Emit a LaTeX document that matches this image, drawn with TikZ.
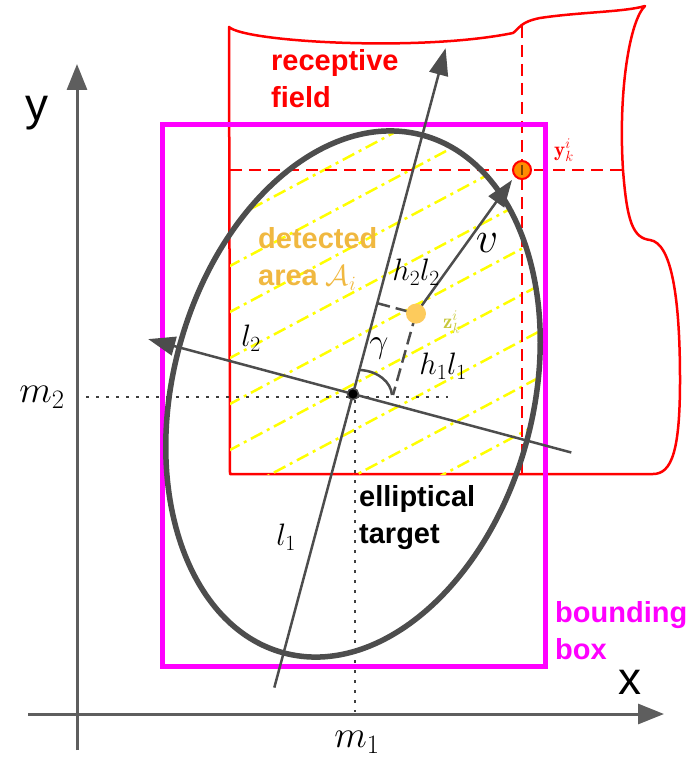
\RequirePackage{fix-cm}
\documentclass[tikz,border=0pt]{standalone}
\usepackage{fontspec}
\newfontfamily\arialf{Liberation Sans}
\usetikzlibrary{arrows.meta,calc}
\definecolor{axgray}{HTML}{5E5E5E}
\definecolor{elgray}{HTML}{4D4D4D}
\definecolor{rfred}{HTML}{FF0000}
\definecolor{bbmag}{HTML}{FF00FF}
\definecolor{hatchy}{HTML}{FFFF00}
\definecolor{detor}{HTML}{F0B840}
\definecolor{zdot}{HTML}{FDCB5C}
\definecolor{zlab}{HTML}{C8C83C}
\definecolor{ydot}{HTML}{FF8C00}
\tikzset{
  axisline/.style={draw=axgray, line width=3pt, -{Triangle[length=26pt,width=20pt]}},
  elaxis/.style={draw=elgray, line width=2.5pt},
  elarrow/.style={elaxis, -{Triangle[length=27pt,width=19pt]}},
  rfield/.style={draw=rfred, line width=2.5pt, line join=round},
  rdash/.style={draw=rfred, line width=2.5pt, dash pattern=on 12pt off 7pt},
  hatchline/.style={draw=hatchy, line width=2.5pt, dash pattern=on 13pt off 5pt on 3pt off 5pt},
  dotline/.style={draw=black!75, line width=2.5pt, dash pattern=on 2.5pt off 7.5pt},
  bbox/.style={draw=bbmag, line width=5pt},
  ellstyle/.style={draw=elgray, line width=5.5pt},
  helper/.style={draw=elgray, line width=2.5pt, dash pattern=on 13pt off 6pt},
  bigtext/.style={font=\arialf\bfseries\fontsize{29}{37}\selectfont, align=left, inner sep=0pt},
  axlab/.style={font=\arialf\fontsize{46}{46}\selectfont, inner sep=0pt},
  mlab/.style={font=\fontsize{38}{38}\selectfont, inner sep=0pt},
  slab/.style={font=\fontsize{31}{31}\selectfont, inner sep=0pt},
  tlab/.style={font=\fontsize{21}{21}\selectfont, inner sep=0pt}
}
\begin{document}
\begin{tikzpicture}[x=1pt,y=-1pt]
\useasboundingbox (0,0) rectangle (694,762);
% axes
\coordinate (xs) at (28,714);
\coordinate (xe) at (664,714);
\coordinate (ys) at (77,750);
\coordinate (ye) at (77,64);
\draw[axisline] (xs) -- (xe);
\draw[axisline] (ys) -- (ye);
\node[axlab] (ylab) at (37,113) {y};
\node[axlab] (xlab) at (630,682) {x};
% receptive field
\draw[rfield] (230,474) -- (229,27) .. controls (245,42) and (420,52) .. (513,33)
  .. controls (520,28) and (520,22) .. (540,18) .. controls (580,12) and (625,12) .. (645,6)
  .. controls (630,20) and (618,90) .. (623,170) .. controls (627,222) and (633,238) .. (650,240)
  .. controls (672,243) and (680,300) .. (680,380) .. controls (680,450) and (672,474) .. (653,474)
  -- cycle;
% ellipse centre
\coordinate (C) at (353,394);
% hatch
\begin{scope}
  \clip[rotate around={-15:(C)}] (C) ellipse [x radius=180, y radius=268];
  \clip (230,0) rectangle (700,474);
  \foreach \k in {-5,...,9} {
    \draw[hatchline] (228,{267+46*\k}) -- (560,{267+46*\k-176.6});
  }
\end{scope}
% red dashed lines
\coordinate (hl) at (230,170);
\coordinate (hr) at (622,170);
\coordinate (vt) at (522,26);
\coordinate (vb) at (522,474);
\draw[rdash] (hl) -- (hr);
\draw[rdash] (vt) -- (vb);
% dotted lines
\coordinate (m2s) at (86,397);
\coordinate (m2e) at (448,397);
\coordinate (m1s) at (355,400);
\coordinate (m1e) at (355,712);
\draw[dotline] (m2s) -- (m2e);
\draw[dotline] (m1s) -- (m1e);
% bounding box
\draw[bbox] (162,125) rectangle (545,666);
% ellipse
\draw[ellstyle, rotate around={-15:(C)}] (C) ellipse [x radius=180, y radius=268];
% ellipse axes
\coordinate (Mtop) at (445.6,48.2);
\coordinate (Mbot) at (274.3,687.6);
\coordinate (Nleft) at (148.2,339.1);
\coordinate (Nright) at (571.3,452.5);
\draw[elarrow] (Mbot) -- (Mtop);
\draw[elarrow] (Nright) -- (Nleft);
% helper dashed lines
\coordinate (zk) at (416,313.6);
\coordinate (F2) at (377.3,303.2);
\coordinate (F1) at (393,395);
\draw[helper] (F2) -- (zk);
\draw[helper] (zk) -- (F1);
% gamma arc
\coordinate (g1) at (360,370);
\coordinate (g2) at (392,395);
\draw[elaxis] (g1) .. controls (378,371) and (391,382) .. (g2);
% v arrow
\coordinate (vtip) at (512,180);
\draw[elarrow] (zk) -- (vtip);
% points
\node[circle, fill=zdot, minimum size=20pt, inner sep=0pt] (zpt) at (zk) {};
\node[circle, draw=elgray, fill=black, line width=1.5pt, minimum size=11pt, inner sep=0pt] (cdot) at (C) {};
\node[circle, fill=ydot, draw=rfred, line width=2pt, minimum size=18pt, inner sep=0pt] (ypt) at (522,170) {};
\draw[draw=black!50!ydot, line width=1.5pt] ($(ypt)+(0,-5)$) -- ($(ypt)+(0,5)$);
% labels
\node[bigtext, text=rfred, anchor=west] (rflab) at (271,79) {receptive\\field};
\node[bigtext, text=detor, anchor=west] (dalab) at (258,259) {detected\\area $\mathcal{A}_i$};
\node[bigtext, text=black, anchor=west] (etlab) at (359,518) {elliptical\\target};
\node[bigtext, text=bbmag, anchor=west] (bblab) at (555,631) {bounding\\box};
\node[mlab] (m2lab) at (42,397) {$m_2$};
\node[mlab] (m1lab) at (357,742) {$m_1$};
\node[slab] (l2lab) at (251,338) {$l_2$};
\node[slab] (l1lab) at (286,537) {$l_1$};
\node[slab] (h2lab) at (416,272) {$h_2l_2$};
\node[slab] (h1lab) at (443,366) {$h_1l_1$};
\node[font=\fontsize{34}{34}\selectfont, inner sep=0pt] (glab) at (379,348) {$\gamma$};
\node[font=\fontsize{44}{44}\selectfont, inner sep=0pt] (vlab) at (487,243) {$v$};
\node[tlab, text=zlab] (zlab) at (452,322) {$\mathbf{z}_k^i$};
\node[tlab, text=rfred] (ylabk) at (564,150) {$\mathbf{y}_k^i$};
\end{tikzpicture}
\end{document}
